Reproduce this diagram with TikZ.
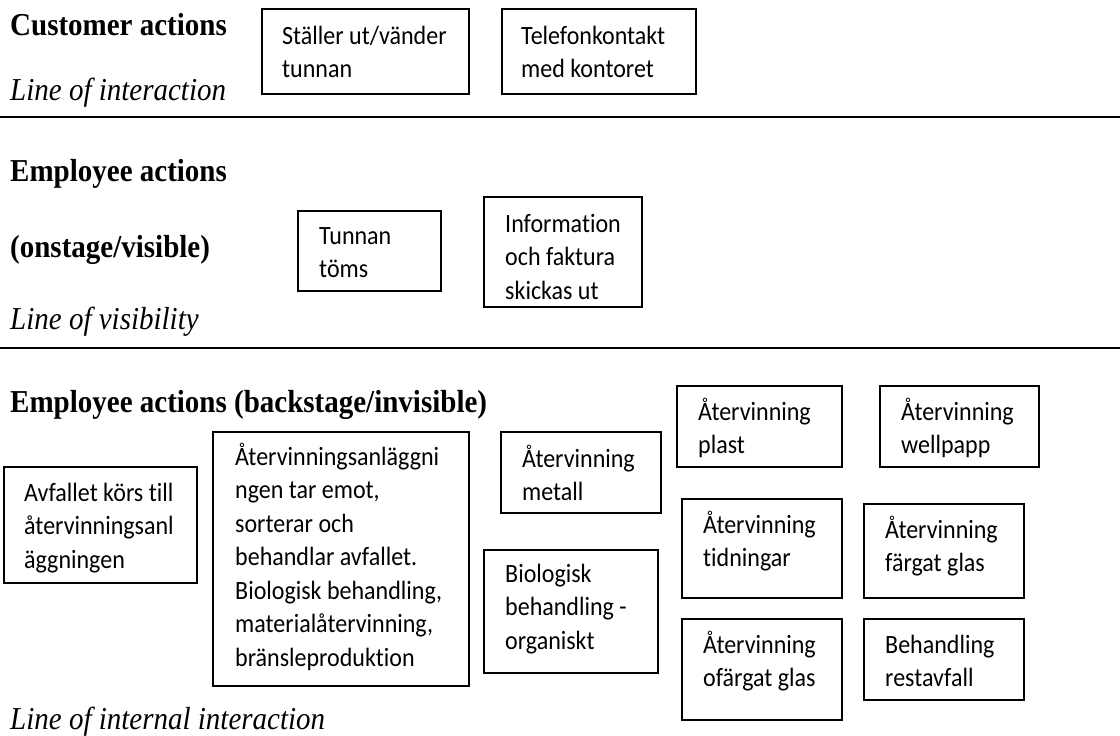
\documentclass[tikz,border=0pt]{standalone}
\usepackage{graphicx}
\usepackage{fontspec}
\setmainfont{Liberation Serif}
\newfontfamily\calib[Ligatures={NoCommon}]{Carlito}
\newcommand{\mkbox}[5]{\node[box, minimum width={(#4-#2)*1pt}, minimum height={(#5-#3)*1pt}] (#1) at ({(#2+#4)/2},{(#3+#5)/2}) {};}
\newcommand{\mktxt}[4]{\node[txt] (#1) at (#2,#3) {\scalebox{1}[1.1]{\parbox[t]{320pt}{\calib\fontsize{24}{30.5}\selectfont\raggedright #4}}};}
\newcommand{\vs}[1]{\scalebox{1}[1.1]{#1}}
\begin{document}
\begin{tikzpicture}[x=1pt,y=-1pt,
  box/.style={draw, line width=1.3pt, rectangle, inner sep=0pt},
  txt/.style={anchor=base west, inner sep=0pt},
  head/.style={anchor=base west, inner sep=0pt, font=\fontsize{29}{34}\selectfont\bfseries},
  lineof/.style={anchor=base west, inner sep=0pt, font=\fontsize{29}{34}\selectfont\itshape},
  sep/.style={line width=2.2pt}]
\useasboundingbox (0,0) rectangle (1120,736);

% headings
\node[head] (hcust) at (10,35) {\vs{Customer actions}};
\node[lineof] (linter) at (10,100) {\vs{Line of interaction}};
\node[head] (hemp1) at (10,181) {\vs{Employee actions}};
\node[head] (hemp2) at (10,257) {\vs{(onstage/visible)}};
\node[lineof] (lvis) at (10,329) {\vs{Line of visibility}};
\node[head] (hback) at (10,412) {\vs{Employee actions (backstage/invisible)}};
\node[lineof] (lint) at (10,729) {\vs{Line of internal interaction}};

% separator lines
\coordinate (s1a) at (0,117); \coordinate (s1b) at (1120,117);
\coordinate (s2a) at (0,348); \coordinate (s2b) at (1120,348);
\draw[sep] (s1a) -- (s1b);
\draw[sep] (s2a) -- (s2b);

% boxes
\mkbox{ba}{262}{9}{469}{94}
\mkbox{bb}{502}{9}{696}{94}
\mkbox{bt}{298}{211}{441}{291}
\mkbox{bi}{484}{197}{642}{307}
\mkbox{bav}{4}{467}{197}{583}
\mkbox{bbig}{213}{432}{469}{686}
\mkbox{bme}{501}{432}{661}{513}
\mkbox{bbio}{484}{550}{658}{673}
\mkbox{bpl}{677}{386}{842}{467}
\mkbox{bwe}{880}{386}{1039}{467}
\mkbox{bti}{682}{499}{842}{598}
\mkbox{bfa}{864}{504}{1024}{598}
\mkbox{bof}{682}{619}{842}{720}
\mkbox{bre}{864}{619}{1024}{700}

% texts
\mktxt{ta}{282}{44}{Ställer ut/vänder\\tunnan}
\mktxt{tb}{521}{44}{Telefonkontakt\\med kontoret}
\mktxt{tt}{319}{244}{Tunnan\\töms}
\mktxt{ti}{505}{232}{Information\\och faktura\\skickas ut}
\mktxt{tav}{24}{501}{Avfallet körs till\\återvinningsanl\\äggningen}
\mktxt{tbig}{235}{465}{Återvinningsanläggni\\ngen tar emot,\\sorterar och\\behandlar avfallet.\\Biologisk behandling,\\materialåtervinning,\\bränsleproduktion}
\mktxt{tme}{522}{467}{Återvinning\\metall}
\mktxt{tbio}{505}{582}{Biologisk\\behandling -\\organiskt}
\mktxt{tpl}{698}{420}{Återvinning\\plast}
\mktxt{twe}{901}{420}{Återvinning\\wellpapp}
\mktxt{tti}{703}{533}{Återvinning\\tidningar}
\mktxt{tfa}{885}{538}{Återvinning\\färgat glas}
\mktxt{tof}{703}{653}{Återvinning\\ofärgat glas}
\mktxt{tre}{885}{653}{Behandling\\restavfall}
\end{tikzpicture}
\end{document}
